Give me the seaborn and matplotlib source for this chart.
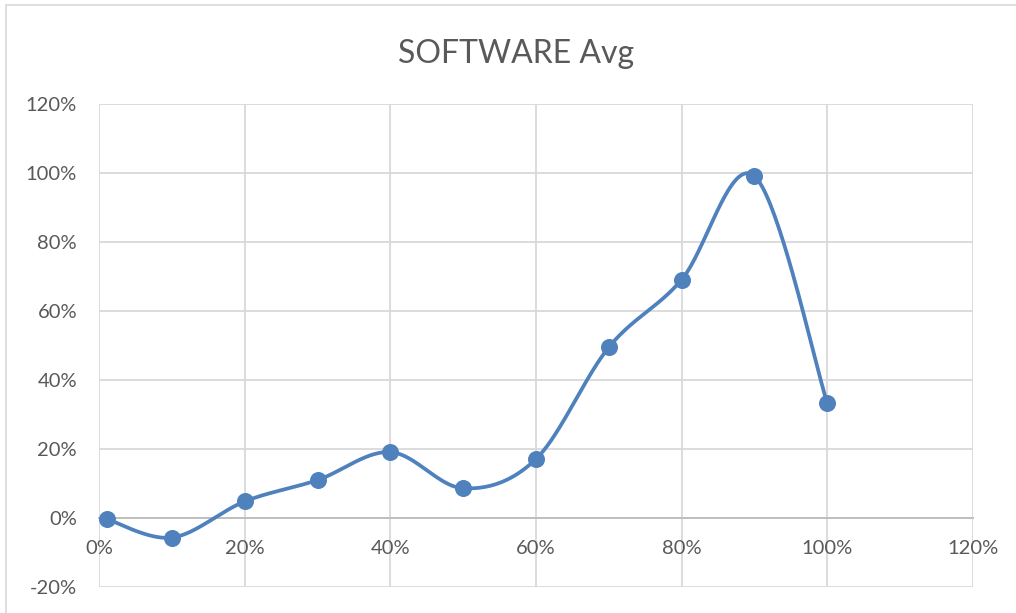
import numpy as np
import pandas as pd
import matplotlib
matplotlib.use("Agg")
import matplotlib.pyplot as plt
from matplotlib.lines import Line2D
from matplotlib.ticker import PercentFormatter
import seaborn as sns

# ---- data ----
title = "SOFTWARE Avg"
x_vals = [0.01, 0.10, 0.20, 0.30, 0.40, 0.50, 0.60, 0.70, 0.80, 0.90, 1.00]
y_vals = [-0.004, -0.058, 0.047, 0.109, 0.190, 0.085, 0.170, 0.494, 0.690, 0.991, 0.333]
x_ticks = [0.0, 0.2, 0.4, 0.6, 0.8, 1.0, 1.2]
y_ticks = [-0.2, 0.0, 0.2, 0.4, 0.6, 0.8, 1.0, 1.2]

LINE = "#4F81BD"
TEXT = "#595959"
GRID = "#D9D9D9"
AXIS = "#BFBFBF"


def smooth_curve(xs, ys, n=40):
    """Excel-like smoothed line: Catmull-Rom Bezier segments through the points."""
    P = np.column_stack([xs, ys]).astype(float)
    out = []
    m = len(P)
    t = np.linspace(0, 1, n)[:, None]
    for i in range(m - 1):
        p0 = P[i - 1] if i > 0 else P[i]
        p1 = P[i]
        p2 = P[i + 1]
        p3 = P[i + 2] if i + 2 < m else P[i + 1]
        c1 = p1 + (p2 - p0) / 6.0
        c2 = p2 - (p3 - p1) / 6.0
        seg = ((1 - t) ** 3) * p1 + 3 * ((1 - t) ** 2) * t * c1 + 3 * (1 - t) * t ** 2 * c2 + t ** 3 * p2
        out.append(seg if i == 0 else seg[1:])
    arr = np.vstack(out)
    return pd.DataFrame({"x": arr[:, 0], "y": arr[:, 1]})


sns.set_theme(style="white")
plt.rcParams["font.family"] = ["Lato", "DejaVu Sans"]
plt.rcParams["axes.unicode_minus"] = False

W, H = 1016, 613
fig = plt.figure(figsize=(W / 100, H / 100), dpi=100)
left, right, top, bottom = 99.3, 972.7, 104.0, 586.5
ax = fig.add_axes([left / W, 1 - bottom / H, (right - left) / W, (bottom - top) / H])

curve = smooth_curve(x_vals, y_vals)
pts = pd.DataFrame({"x": x_vals, "y": y_vals})
sns.lineplot(data=curve, x="x", y="y", sort=False, color=LINE, linewidth=2.7, ax=ax, zorder=3)
sns.scatterplot(data=pts, x="x", y="y", color=LINE, s=150, edgecolor=LINE, linewidth=0, ax=ax, zorder=4)

ax.set_xlim(0, 1.2)
ax.set_ylim(-0.2, 1.2)
ax.set_xticks(x_ticks)
ax.set_yticks(y_ticks)
ax.xaxis.set_major_formatter(PercentFormatter(1.0, decimals=0))
ax.yaxis.set_major_formatter(PercentFormatter(1.0, decimals=0))
ax.set_xlabel("")
ax.set_ylabel("")

ax.grid(True, color=GRID, linewidth=1.3, zorder=0)
ax.set_axisbelow(True)
for s in ["top", "right", "left"]:
    ax.spines[s].set_visible(False)
ax.spines["bottom"].set_position(("data", 0))
ax.spines["bottom"].set_color(AXIS)
ax.spines["bottom"].set_linewidth(1.4)
ax.spines["bottom"].set_zorder(1)

ax.tick_params(axis="x", length=0, pad=16, labelsize=14.5, labelcolor=TEXT)
ax.tick_params(axis="y", length=0, pad=16, labelsize=14.5, labelcolor=TEXT)
for lbl in ax.get_xticklabels() + ax.get_yticklabels():
    lbl.set_clip_on(False)

fig.text(516 / W, 1 - 62.7 / H, title, ha="center", va="baseline",
         fontsize=23, color=TEXT)

# chart-area border (left and top edges visible)
fig.add_artist(Line2D([6 / W, 6 / W], [0, 1 - 5.3 / H], transform=fig.transFigure,
                      color=GRID, linewidth=1.2))
fig.add_artist(Line2D([6 / W, 1], [1 - 5.3 / H, 1 - 5.3 / H], transform=fig.transFigure,
                      color=GRID, linewidth=1.2))

fig.savefig("out.png", dpi=100, facecolor="white")
